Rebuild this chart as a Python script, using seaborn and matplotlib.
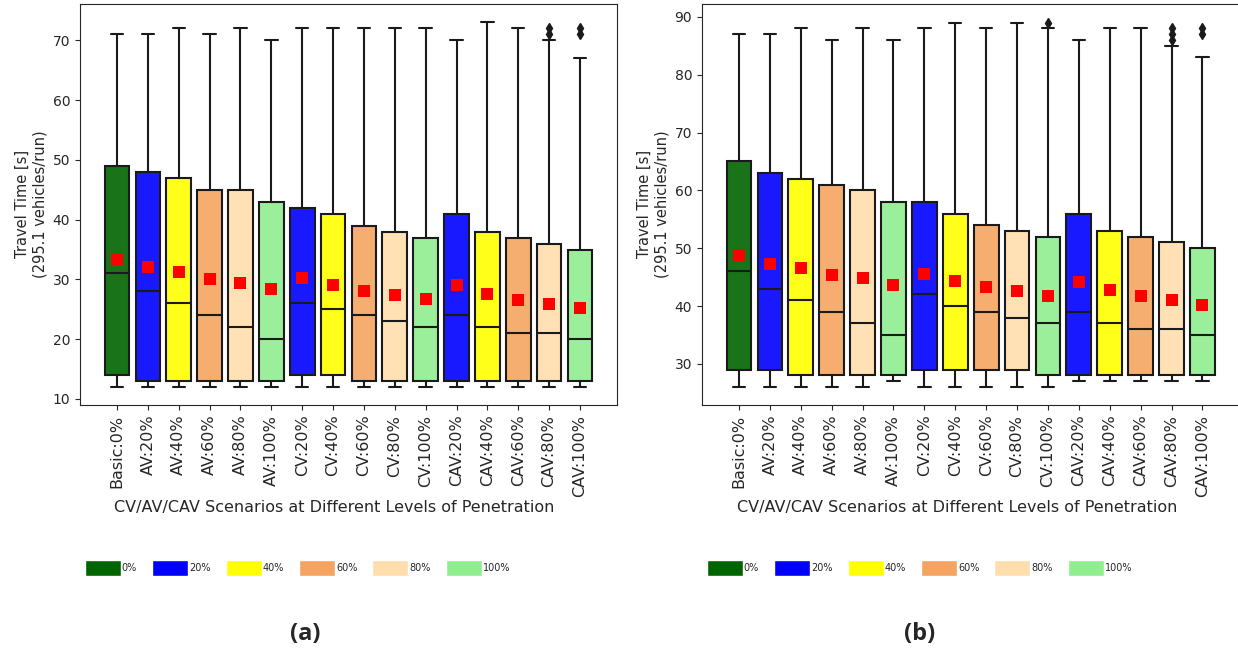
# -------------------------------------------
# imports
import numpy as np
import matplotlib
matplotlib.use('Agg')
import matplotlib.pyplot as plt
import seaborn as sns
from matplotlib.colors import to_rgba
from matplotlib.patches import Patch

# -------------------------------------------
# data

scenarios = ['Basic:0%', 'AV:20%', 'AV:40%', 'AV:60%', 'AV:80%', 'AV:100%',
             'CV:20%', 'CV:40%', 'CV:60%', 'CV:80%', 'CV:100%',
             'CAV:20%', 'CAV:40%', 'CAV:60%', 'CAV:80%', 'CAV:100%']

# penetration level of each scenario -> colour
levels = ['0%', '20%', '40%', '60%', '80%', '100%']
level_colors = ['darkgreen', 'blue', 'yellow', 'sandybrown', 'navajowhite', 'lightgreen']
scenario_level = ['0%', '20%', '40%', '60%', '80%', '100%',
                  '20%', '40%', '60%', '80%', '100%',
                  '20%', '40%', '60%', '80%', '100%']

# (a)
a_low = [12, 12, 12, 12, 12, 12, 12, 12, 12, 12, 12, 12, 12, 12, 12, 12]
a_q1 = [14, 13, 13, 13, 13, 13, 14, 14, 13, 13, 13, 13, 13, 13, 13, 13]
a_med = [31, 28, 26, 24, 22, 20, 26, 25, 24, 23, 22, 24, 22, 21, 21, 20]
a_q3 = [49, 48, 47, 45, 45, 43, 42, 41, 39, 38, 37, 41, 38, 37, 36, 35]
a_high = [71, 71, 72, 71, 72, 70, 72, 72, 72, 72, 72, 70, 73, 72, 70, 67]
a_mean = [33.5, 32.0, 31.2, 30.1, 29.4, 28.4, 30.2, 29.0, 28.0, 27.4, 26.7,
          29.0, 27.6, 26.5, 25.9, 25.2]
a_fliers = [[], [], [], [], [], [], [], [], [], [], [], [], [], [], [71, 72], [71, 72]]

# (b)
b_low = [26, 26, 26, 26, 26, 27, 26, 26, 26, 26, 26, 27, 27, 27, 27, 27]
b_q1 = [29, 29, 28, 28, 28, 28, 29, 29, 29, 29, 28, 28, 28, 28, 28, 28]
b_med = [46, 43, 41, 39, 37, 35, 42, 40, 39, 38, 37, 39, 37, 36, 36, 35]
b_q3 = [65, 63, 62, 61, 60, 58, 58, 56, 54, 53, 52, 56, 53, 52, 51, 50]
b_high = [87, 87, 88, 86, 88, 86, 88, 89, 88, 89, 88, 86, 88, 88, 85, 83]
b_mean = [48.8, 47.3, 46.5, 45.4, 44.8, 43.6, 45.5, 44.4, 43.3, 42.6, 41.8,
          44.2, 42.8, 41.7, 41.0, 40.2]
b_fliers = [[], [], [], [], [], [], [], [], [], [], [89], [], [], [], [86, 87, 88], [87, 88]]


# -------------------------------------------
# functions

# builds the summary dicts that matplotlib's bxp understands
def box_stats(low, q1, med, q3, high, means, fliers):
    return [dict(whislo=lo, q1=a, med=m, q3=b, whishi=hi, mean=mu, fliers=fl)
            for lo, a, m, b, hi, mu, fl in zip(low, q1, med, q3, high, means, fliers)]


# one boxplot panel with red mean markers and a colour legend below
def travel_box_plot(ax, stats, means, ylim, yticks):
    pos = np.arange(len(scenarios))
    line = dict(color='#1a1a1a', linewidth=1.5)
    bp = ax.bxp(stats, positions=pos, widths=0.8, patch_artist=True, manage_ticks=False,
                boxprops=dict(edgecolor='#1a1a1a', linewidth=1.5),
                medianprops=line, whiskerprops=line, capprops=line,
                flierprops=dict(marker='d', markerfacecolor='#1a1a1a',
                                markeredgecolor='#1a1a1a', markersize=5))
    # box colours by penetration level
    for patch, lvl in zip(bp['boxes'], scenario_level):
        patch.set_facecolor(to_rgba(level_colors[levels.index(lvl)], 0.9))

    # means
    sns.scatterplot(x=pos, y=means, marker='s', color='red', s=70, linewidth=0,
                    zorder=5, legend=False, ax=ax)

    ax.set_xticks(pos)
    ax.set_xticklabels(scenarios, rotation=90, fontsize=11.5)
    ax.set_xlim(-1.2, 16.2)
    ax.set_ylim(*ylim)
    ax.set_yticks(yticks)
    ax.set_xlabel('CV/AV/CAV Scenarios at Different Levels of Penetration', fontsize=11.5)
    ax.xaxis.set_label_coords(0.474, -0.237)
    ax.set_ylabel('Travel Time [s]\n(295.1 vehicles/run)', fontsize=10.5)

    handles = [Patch(facecolor=c, label=l) for c, l in zip(level_colors, levels)]
    ax.legend(handles=handles, loc='center left', bbox_to_anchor=(0.009, -0.406),
              ncol=6, frameon=False, fontsize=7, handlelength=3.7, handleheight=2.1,
              handletextpad=0.1, columnspacing=1.55, borderpad=0, borderaxespad=0)


# -------------------------------------------
# figure

sns.set_style('ticks')
plt.rcParams['font.family'] = ['DejaVu Sans']
plt.rcParams['font.size'] = 10
plt.rcParams['ytick.labelsize'] = 10

fig = plt.figure(figsize=(12.38, 6.51), dpi=100)
ax1 = fig.add_axes([0.0646, 0.378, 0.4338, 0.616])
ax2 = fig.add_axes([0.567, 0.378, 0.4342, 0.616])

travel_box_plot(ax1, box_stats(a_low, a_q1, a_med, a_q3, a_high, a_mean, a_fliers),
                a_mean, (9.0, 76.1), np.arange(10, 71, 10))
travel_box_plot(ax2, box_stats(b_low, b_q1, b_med, b_q3, b_high, b_mean, b_fliers),
                b_mean, (22.9, 92.25), np.arange(30, 91, 10))

# panel labels
fig.text(305 / 1238, 1 - 634 / 651, '(a)', ha='center', va='center',
         fontsize=17, fontweight='bold', family=['Open Sans', 'DejaVu Sans'])
fig.text(920 / 1238, 1 - 634 / 651, '(b)', ha='center', va='center',
         fontsize=17, fontweight='bold', family=['Open Sans', 'DejaVu Sans'])

fig.savefig('out.png', dpi=100)
